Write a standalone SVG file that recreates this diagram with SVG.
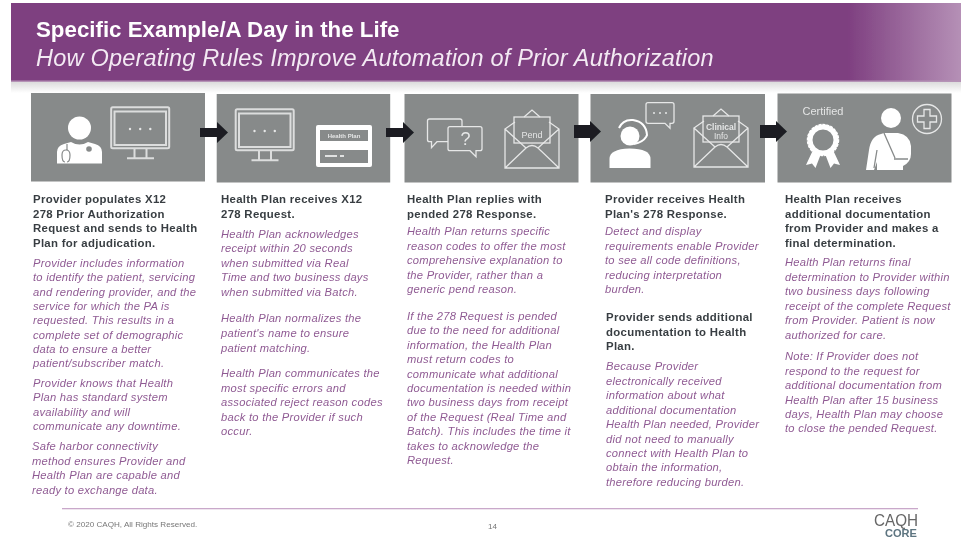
<svg xmlns="http://www.w3.org/2000/svg" width="961" height="539" viewBox="0 0 961 539">
<style>
text{font-family:"Liberation Sans",Arial,sans-serif}
.t1{font-size:22.3px;font-weight:700;fill:#fff}
.t2{font-size:23.5px;letter-spacing:.22px;font-style:italic;fill:#f3eaf3}
.b{font-size:11.4px;letter-spacing:.3px;font-weight:700;fill:#383e42}
.i{font-size:11.2px;letter-spacing:.25px;font-style:italic;fill:#8f5a93}
.box{fill:#878a8a}
.ln{fill:none;stroke:#e6e7e7;stroke-width:1.3}
.thick{fill:none;stroke:#dcdddd;stroke-width:2}
.w{fill:#fff}
.ic{font-size:8.5px;fill:#e4e5e5;text-anchor:middle}
.arrow{fill:#1b1f23}
.f{font-size:8.1px;fill:#777}
</style>
<defs>
<filter id="soft" x="0" y="0" width="1" height="1"><feGaussianBlur stdDeviation="0.5"/></filter>
<linearGradient id="bn" x1="0" x2="1" y1="0" y2="0"><stop offset="0" stop-color="#7e3f80"/><stop offset="0.88" stop-color="#7e3f80"/><stop offset="1" stop-color="#b590b6"/></linearGradient>
<linearGradient id="sh" x1="0" x2="0" y1="0" y2="1"><stop offset="0" stop-color="#dcdcdc"/><stop offset="1" stop-color="#fff"/></linearGradient>
<g id="monitor">
<rect x="0.7" y="0.7" width="58" height="41" rx="1.5" class="thick"/>
<rect x="4" y="5" width="51.5" height="33.5" class="thick"/>
<path d="M24 42v9M36 42v9M16.500 51.700h27" class="thick"/>
<circle cx="19.500" cy="22.500" r="1.200" fill="#e6e7e7"/><circle cx="29.700" cy="22.500" r="1.200" fill="#e6e7e7"/><circle cx="39.800" cy="22.500" r="1.200" fill="#e6e7e7"/>
</g>
<g id="envelope">
<path d="M0 19L0 58H54V19L44 12M10 12L0 19L21 38M54 19L33 38M0 58L21 38Q27 33 33 38L54 58M19 7L27 0L35 7" class="ln"/>
<rect x="9" y="7" width="36" height="26" fill="#878a8a" class="ln"/>
</g>
</defs>
<rect width="961" height="539" fill="#fff"/>
<g filter="url(#soft)">
<g id="banner">
<rect x="11" y="82" width="950" height="11" fill="url(#sh)"/>
<rect x="11" y="3" width="950" height="78.500" fill="url(#bn)"/>
<rect x="11" y="80.500" width="950" height="1.500" fill="#b593b6"/>
<text class="t1" x="36" y="37">Specific Example/A Day in the Life</text>
<text class="t2" x="36" y="66">How Operating Rules Improve Automation of Prior Authorization</text>
</g>
<g id="node1">
<rect class="box" x="31" y="93" width="174" height="88.500"/>
<circle class="w" cx="79.500" cy="128" r="11.500"/>
<path class="w" d="M57 163.500V152q0-6 7-8l7-2q8.500 5 17 0l7 2q7 2 7 8v11.500z"/>
<path d="M67 144v6M65 162q-3 0-3-7q0-5 4-5q4 0 4 5q0 7-3 7" fill="none" stroke="#878a8a" stroke-width="1.200"/>
<circle cx="89" cy="149" r="2.800" fill="#878a8a"/>
<use href="#monitor" x="110.500" y="106.500"/>
<text class="b"><tspan x="33" y="203.300">Provider populates X12</tspan><tspan x="33" y="217.700">278 Prior Authorization</tspan><tspan x="33" y="232">Request and sends to Health</tspan><tspan x="33" y="246.700">Plan for adjudication.</tspan></text>
<text class="i"><tspan x="33" y="266.700">Provider includes information</tspan><tspan x="33" y="281">to identify the patient, servicing</tspan><tspan x="33" y="295.500">and rendering provider, and the</tspan><tspan x="33" y="309.500">service for which the PA is</tspan><tspan x="33" y="324">requested.  This results in a</tspan><tspan x="33" y="338.700">complete set of demographic</tspan><tspan x="33" y="353">data to ensure a better</tspan><tspan x="33" y="367">patient/subscriber match.</tspan></text>
<text class="i"><tspan x="33" y="386.700">Provider knows that Health</tspan><tspan x="33" y="401">Plan has standard system</tspan><tspan x="33" y="415.500">availability and will</tspan><tspan x="33" y="430">communicate any downtime.</tspan></text>
<text class="i"><tspan x="32" y="450">Safe harbor connectivity</tspan><tspan x="32" y="464.500">method ensures Provider and</tspan><tspan x="32" y="479">Health Plan are capable and</tspan><tspan x="32" y="493.500">ready to exchange data.</tspan></text>
</g>
<g id="node2">
<rect class="box" x="216.700" y="94" width="173.500" height="88.500"/>
<use href="#monitor" x="235" y="108.500"/>
<rect class="w" x="316" y="125" width="56" height="42" rx="2"/>
<rect class="box" x="320" y="130" width="48" height="11"/>
<text x="344" y="137.800" font-size="6" font-weight="700" fill="#e4e5e5" text-anchor="middle">Health Plan</text>
<rect class="box" x="320" y="150" width="48" height="13"/>
<path d="M325 156h12M340 156h4" stroke="#fff" stroke-width="1.600"/>
<text class="b"><tspan x="221" y="203.300">Health Plan receives X12</tspan><tspan x="221" y="217.700">278 Request.</tspan></text>
<text class="i"><tspan x="221" y="237.700">Health Plan acknowledges</tspan><tspan x="221" y="252">receipt within  20 seconds</tspan><tspan x="221" y="266.500">when  submitted via Real</tspan><tspan x="221" y="281">Time and two  business days</tspan><tspan x="221" y="295.500">when  submitted via Batch.</tspan></text>
<text class="i"><tspan x="221" y="322.300">Health Plan normalizes the</tspan><tspan x="221" y="337">patient's  name to ensure</tspan><tspan x="221" y="351.500">patient matching.</tspan></text>
<text class="i"><tspan x="221" y="377.300">Health Plan communicates the</tspan><tspan x="221" y="392">most specific errors and</tspan><tspan x="221" y="406">associated reject reason codes</tspan><tspan x="221" y="420.600">back to the Provider if such</tspan><tspan x="221" y="435">occur.</tspan></text>
</g>
<g id="node3">
<rect class="box" x="404.500" y="94" width="174" height="88.500"/>
<path class="ln" d="M429.500 119H460q2 0 2 2v5.700M448 141.700H437l-5.500 6v-6H429.500q-2 0-2-2V121q0-2 2-2"/>
<path class="ln" d="M450 126.700H480q2 0 2 2V148.700q0 2-2 2H476v6l-6-6H450q-2 0-2-2V128.700q0-2 2-2z"/>
<text x="465.500" y="145" font-size="18" fill="#e6e7e7" text-anchor="middle">?</text>
<use href="#envelope" x="505" y="110"/>
<text class="ic" x="532" y="137.500" style="font-size:9px">Pend</text>
<text class="b"><tspan x="407" y="203.300">Health Plan replies with</tspan><tspan x="407" y="217.700">pended 278 Response.</tspan></text>
<text class="i"><tspan x="407" y="235">Health Plan returns specific</tspan><tspan x="407" y="249.500">reason codes to offer the most</tspan><tspan x="407" y="264">comprehensive explanation to</tspan><tspan x="407" y="278.500">the Provider, rather than a</tspan><tspan x="407" y="293">generic pend reason.</tspan></text>
<text class="i"><tspan x="407" y="320">If the 278 Request is pended</tspan><tspan x="407" y="334.400">due to the need for additional</tspan><tspan x="407" y="348.800">information, the Health Plan</tspan><tspan x="407" y="363.200">must return codes to</tspan><tspan x="407" y="377.600">communicate what  additional</tspan><tspan x="407" y="392">documentation is needed within</tspan><tspan x="407" y="406.400">two  business days from receipt</tspan><tspan x="407" y="420.800">of the Request (Real Time and</tspan><tspan x="407" y="435.200">Batch).  This includes the time it</tspan><tspan x="407" y="449.600">takes to acknowledge  the</tspan><tspan x="407" y="464">Request.</tspan></text>
</g>
<g id="node4">
<rect class="box" x="590.500" y="94" width="174.500" height="88.500"/>
<circle class="w" cx="630" cy="136" r="9.500"/>
<path d="M619 128q4-9 14-8q13 2 14 15l-1 2M646 137q-3 5-12 7" fill="none" stroke="#fff" stroke-width="2"/>
<path class="w" d="M609.500 168v-9q0-10 20-10.500q21 0 21 10.500v9z"/>
<path class="ln" d="M648 102.700H672q2 0 2 2v16.600q0 2-2 2H670v5l-5-5H648q-2 0-2-2V104.700q0-2 2-2z"/>
<circle cx="654" cy="113" r="1" fill="#e6e7e7"/><circle cx="660" cy="113" r="1" fill="#e6e7e7"/><circle cx="666" cy="113" r="1" fill="#e6e7e7"/>
<use href="#envelope" x="694" y="109"/>
<text class="ic" x="721" y="129.500" font-weight="700">Clinical</text>
<text class="ic" x="721" y="139">Info</text>
<text class="b"><tspan x="605" y="203.300">Provider receives Health</tspan><tspan x="605" y="217.700">Plan's 278 Response.</tspan></text>
<text class="i"><tspan x="605" y="235">Detect and display</tspan><tspan x="605" y="249.500">requirements enable Provider</tspan><tspan x="605" y="264">to see all code definitions,</tspan><tspan x="605" y="278.500">reducing interpretation</tspan><tspan x="605" y="293">burden.</tspan></text>
<text class="b"><tspan x="606" y="321">Provider sends additional</tspan><tspan x="606" y="335.500">documentation to Health</tspan><tspan x="606" y="350">Plan.</tspan></text>
<text class="i"><tspan x="606" y="370.300">Because Provider</tspan><tspan x="606" y="385">electronically received</tspan><tspan x="606" y="399">information about what</tspan><tspan x="606" y="413.500">additional documentation</tspan><tspan x="606" y="428">Health Plan needed, Provider</tspan><tspan x="606" y="442.500">did not need to manually</tspan><tspan x="606" y="457">connect with  Health Plan to</tspan><tspan x="606" y="471">obtain the information,</tspan><tspan x="606" y="485.500">therefore reducing burden.</tspan></text>
</g>
<g id="node5">
<rect class="box" x="777.500" y="93.500" width="174" height="89"/>
<text class="ic" x="823" y="115" style="font-size:11px">Certified</text>
<path class="w" d="M813 150l-7 15l6-1.500l3.500 4.500l5-13zM833 150l7 15l-6-1.500l-3.500 4.500l-5-13z"/>
<circle cx="823" cy="140" r="13" fill="none" stroke="#fff" stroke-width="5"/>
<circle cx="823" cy="140" r="15.500" fill="none" stroke="#fff" stroke-width="1.500" stroke-dasharray="3 1"/>
<circle class="w" cx="891" cy="118" r="10"/>
<path class="w" d="M866 170l3-20q2-14 12-16l3-1l14 0q12 2 13 13v8q0 8-8 12v4h-26v-8l-3 8z"/>
<path d="M884 133l11 25M874 168l3-18M894 159h14" fill="none" stroke="#878a8a" stroke-width="1.300"/>
<circle class="ln" cx="927" cy="119" r="14.500"/>
<path class="ln" d="M924 109.500h6v6.500h6.500v6h-6.500v6.500h-6v-6.500h-6.500v-6h6.500z"/>
<text class="b"><tspan x="785" y="203.300">Health Plan receives</tspan><tspan x="785" y="217.700">additional documentation</tspan><tspan x="785" y="232">from Provider and makes a</tspan><tspan x="785" y="246.700">final determination.</tspan></text>
<text class="i"><tspan x="785" y="266">Health Plan returns final</tspan><tspan x="785" y="280.500">determination to Provider within</tspan><tspan x="785" y="295">two  business days following</tspan><tspan x="785" y="309.500">receipt of the complete Request</tspan><tspan x="785" y="324">from Provider.  Patient is now</tspan><tspan x="785" y="338.500">authorized for care.</tspan></text>
<text class="i"><tspan x="785" y="360">Note:  If Provider does not</tspan><tspan x="785" y="374.500">respond to the request for</tspan><tspan x="785" y="389">additional documentation from</tspan><tspan x="785" y="403.500">Health Plan after 15 business</tspan><tspan x="785" y="418">days, Health Plan may choose</tspan><tspan x="785" y="432">to close the pended Request.</tspan></text>
</g>
<g id="connectors">
<path class="arrow" d="M200 128h17v-6l11 10.500l-11 10.500v-6h-17z"/>
<path class="arrow" d="M386 128h17v-6l11 10.500l-11 10.500v-6h-17z"/>
<path class="arrow" d="M574 125h16v-4l11 10.500l-11 10.500v-4h-16z"/>
<path class="arrow" d="M760 125h16v-4l11 10.500l-11 10.500v-4h-16z"/>
</g>
<g id="footer">
<rect x="62" y="508" width="856" height="1.300" fill="#c9a8ca"/>
<text class="f" x="68" y="527">© 2020 CAQH, All Rights Reserved.</text>
<text class="f" x="488" y="529">14</text>
<text x="874" y="526" font-size="16.500" fill="#666" textLength="44" lengthAdjust="spacingAndGlyphs">CAQH</text>
<text x="885" y="536.500" font-size="10" font-weight="700" fill="#5d7480" textLength="32" lengthAdjust="spacingAndGlyphs">CORE</text>
</g>
</g>
</svg>
